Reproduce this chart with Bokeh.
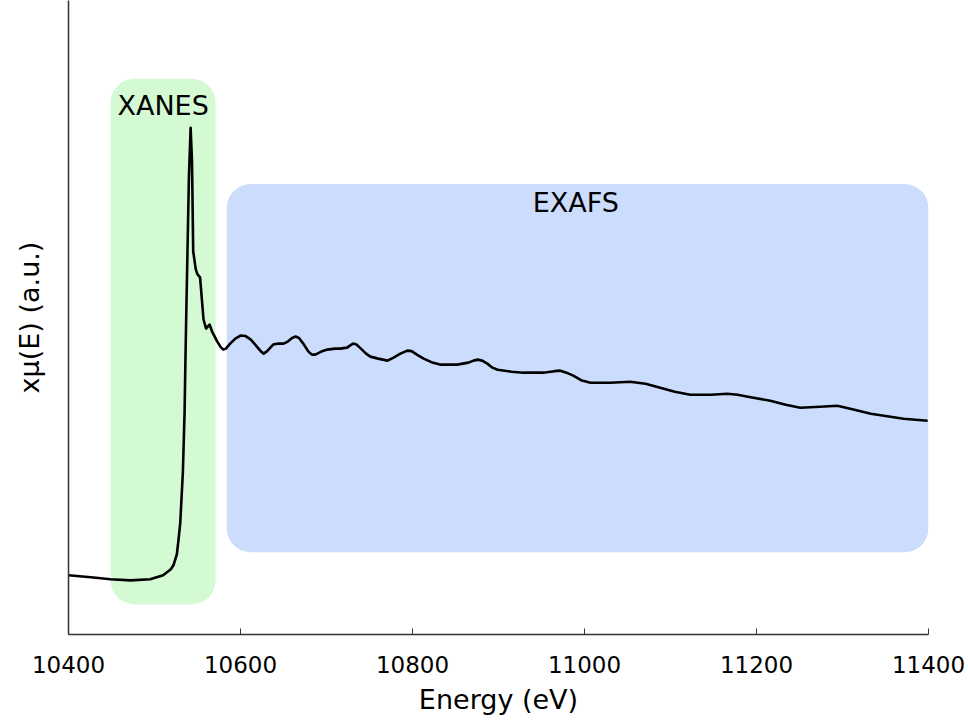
from bokeh.plotting import figure
from bokeh.models import Range1d, FixedTicker
from bokeh.core.properties import value
from bokeh.embed import file_html
from bokeh.resources import INLINE

# Spectrum: energy (eV) and x*mu(E) (a.u.)
energy = [10400, 10426, 10449, 10472, 10495, 10510, 10519, 10522, 10526, 10528,
          10530, 10533, 10535, 10536, 10537, 10540, 10542, 10543.6, 10545, 10548,
          10550, 10553, 10557, 10560, 10564, 10567,
          10573, 10577, 10580, 10583, 10588, 10594, 10600, 10606, 10612, 10620,
          10624, 10627, 10631, 10638, 10644, 10650, 10655, 10660, 10664, 10668,
          10673, 10679, 10683, 10687, 10694, 10701, 10710, 10716, 10724, 10728,
          10731, 10735, 10740, 10746, 10751, 10760, 10771, 10778, 10786, 10794,
          10799, 10806, 10813, 10822, 10833, 10852, 10865, 10871, 10876, 10881,
          10887, 10893, 10899, 10915, 10929, 10952, 10965, 10972, 10979, 10987,
          10996, 11007, 11030, 11053, 11071, 11088, 11105, 11123, 11147, 11166,
          11178, 11190, 11216, 11234, 11251, 11274, 11294, 11309, 11333, 11352,
          11371, 11399]
absorb = [0.236, 0.228, 0.220, 0.216, 0.220, 0.236, 0.260, 0.276, 0.320, 0.380,
          0.448, 0.648, 0.888, 1.100, 1.288, 1.820, 2.020, 1.888, 1.528, 1.456,
          1.436, 1.424, 1.256, 1.220, 1.236, 1.208,
          1.168, 1.146, 1.136, 1.140, 1.160, 1.180, 1.192, 1.190, 1.176, 1.144,
          1.128, 1.120, 1.130, 1.156, 1.160, 1.160, 1.168, 1.182, 1.188, 1.182,
          1.160, 1.128, 1.116, 1.116, 1.128, 1.136, 1.140, 1.140, 1.144, 1.154,
          1.160, 1.156, 1.140, 1.120, 1.108, 1.100, 1.092, 1.104, 1.120, 1.132,
          1.130, 1.114, 1.100, 1.086, 1.076, 1.076, 1.084, 1.092, 1.096, 1.092,
          1.080, 1.064, 1.056, 1.048, 1.044, 1.044, 1.050, 1.052, 1.044, 1.032,
          1.014, 1.004, 1.004, 1.008, 1.000, 0.984, 0.968, 0.956, 0.956, 0.960,
          0.956, 0.948, 0.932, 0.916, 0.904, 0.908, 0.912, 0.900, 0.880, 0.870,
          0.860, 0.852]

# Region boxes
region_names = ["XANES", "EXAFS"]
region_left = [10449, 10584]
region_right = [10571, 11400]
region_bottom = [0.12, 0.328]
region_top = [2.216, 1.796]
region_colors = ["#d3fad3", "#ccdcfc"]
label_x = [10510, 10990]
label_y = [2.108, 1.724]

x_ticks = [10400, 10600, 10800, 11000, 11200, 11400]

p = figure(width=968, height=720, output_backend="svg", toolbar_location=None,
           x_range=Range1d(10400, 11400), y_range=Range1d(0, 2.528),
           min_border_left=68, min_border_right=40, min_border_top=0,
           min_border_bottom=86)
p.outline_line_color = None
p.xgrid.visible = False
p.ygrid.visible = False
p.background_fill_color = "white"
p.border_fill_color = "white"

p.quad(left=region_left, right=region_right, bottom=region_bottom, top=region_top,
       fill_color=region_colors, line_color=None, border_radius=24)

p.line(energy, absorb, line_color="black", line_width=2.6, line_join="round")

p.text(x=label_x, y=label_y, text=region_names, text_align="center",
       text_baseline="middle", text_font=value("DejaVu Sans"),
       text_font_size="27px", text_color="black")

xa = p.xaxis[0]
xa.ticker = FixedTicker(ticks=x_ticks)
xa.axis_label = "Energy (eV)"
xa.axis_label_text_font = "DejaVu Sans"
xa.axis_label_text_font_style = "normal"
xa.axis_label_text_font_size = "27px"
xa.axis_label_text_color = "black"
xa.axis_label_standoff = 8
xa.major_label_text_font = "DejaVu Sans"
xa.major_label_text_font_size = "23px"
xa.major_label_text_color = "black"
xa.major_label_standoff = 21
xa.major_tick_in = 6
xa.major_tick_out = 0
xa.minor_tick_line_color = None
xa.axis_line_color = "#333333"
xa.major_tick_line_color = "#333333"
xa.axis_line_width = 1.5

ya = p.yaxis[0]
ya.ticker = FixedTicker(ticks=[])
ya.axis_label = "xμ(E) (a.u.)"
ya.axis_label_text_font = "DejaVu Sans"
ya.axis_label_text_font_style = "normal"
ya.axis_label_text_font_size = "27px"
ya.axis_label_text_color = "black"
ya.axis_label_standoff = 24
ya.major_tick_out = 0
ya.major_tick_in = 0
ya.minor_tick_line_color = None
ya.major_label_text_font_size = "0px"
ya.axis_line_color = "#333333"
ya.axis_line_width = 1.5

open("out.html", "w").write(file_html(p, INLINE))
